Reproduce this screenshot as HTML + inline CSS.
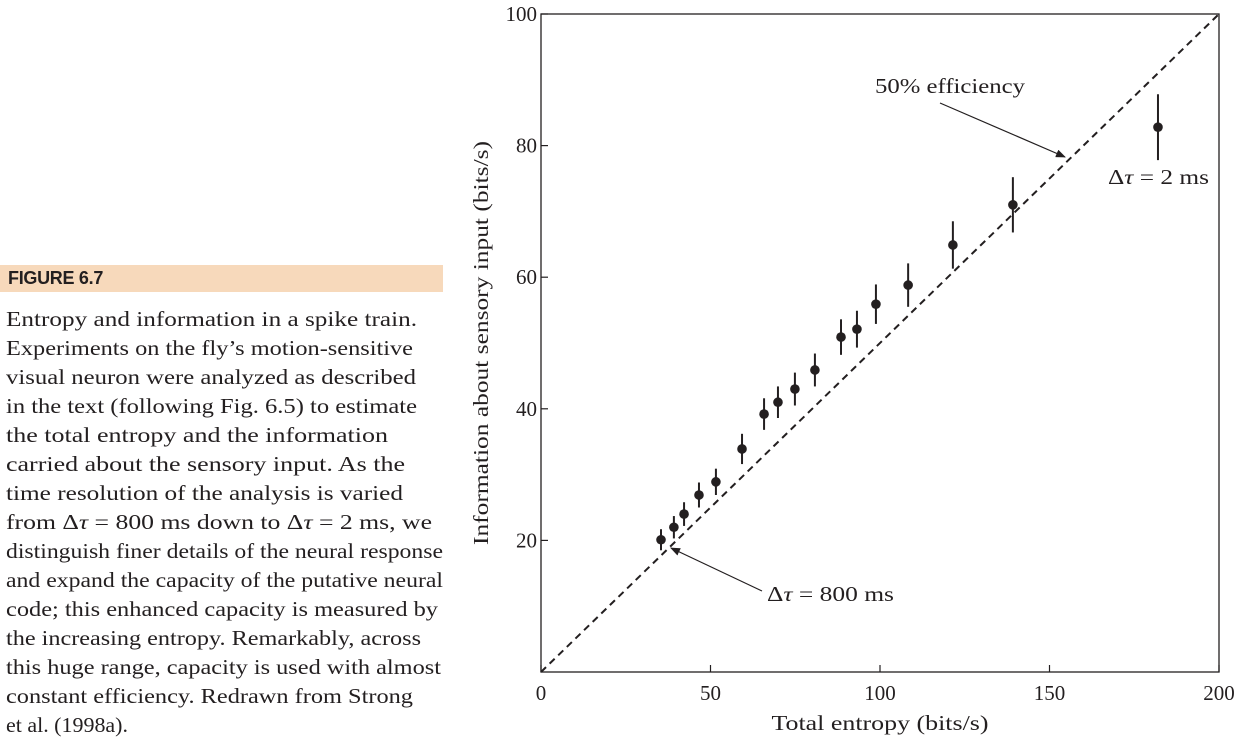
<!DOCTYPE html>
<html><head><meta charset="utf-8"><style>
body{margin:0;width:1248px;height:746px;background:#fff;overflow:hidden;position:relative;font-family:"Liberation Serif",serif;color:#231f20}
#bar{position:absolute;left:0;top:265px;width:443px;height:27px;background:#f7d9bb}
#bar span{position:absolute;left:8px;top:3px;font-family:"Liberation Sans",sans-serif;font-weight:bold;font-size:18px;color:#231f20;letter-spacing:-0.3px}
svg{position:absolute;left:0;top:0}
</style></head><body>
<div id="bar"><span>FIGURE 6.7</span></div>
<svg id="chart" width="1248" height="746"></svg>
<script>
const xVals=[35.4,39.2,42.2,46.6,51.6,59.3,65.8,69.9,74.9,80.8,88.5,93.2,98.8,108.3,121.5,139.2,182];
const yVals=[20.1,22,24,26.9,28.9,33.9,39.2,41,43,45.9,50.9,52.1,55.9,58.8,64.9,71,82.8];
const errVals=[1.6,1.7,1.8,1.9,2,2.3,2.4,2.4,2.5,2.5,2.7,2.8,3,3.3,3.6,4.2,5];
const xTicks=[0,50,100,150,200];
const yTicks=[20,40,60,80,100];
const X=v=>541+v*3.39, Y=v=>672-v*6.58;
const svg=document.getElementById('chart'),NS='http://www.w3.org/2000/svg';
function mk(t,a,p){const e=document.createElementNS(NS,t);for(const k in a)e.setAttribute(k,a[k]);(p||svg).appendChild(e);return e;}
// caption
const capLines=['Entropy and information in a spike train.','Experiments on the fly’s motion-sensitive','visual neuron were analyzed as described','in the text (following Fig. 6.5) to estimate','the total entropy and the information','carried about the sensory input. As the','time resolution of the analysis is varied','from Δ<tspan font-style="italic">τ</tspan> = 800 ms down to Δ<tspan font-style="italic">τ</tspan> = 2 ms, we','distinguish finer details of the neural response','and expand the capacity of the putative neural','code; this enhanced capacity is measured by','the increasing entropy. Remarkably, across','this huge range, capacity is used with almost','constant efficiency. Redrawn from Strong','et al. (1998a).'];
const capW=[411,407,410,411,382,399,397,426,437,437,432,415,435,407,122];
const cap=mk('g',{});


capLines.forEach((s,i)=>{const t=mk('text',{x:6,y:326+i*29,'font-size':21,fill:'#231f20',textLength:capW[i],lengthAdjust:'spacingAndGlyphs'},cap);t.innerHTML=s;});
const frame=mk('rect',{x:X(0),y:Y(100),width:X(200)-X(0),height:Y(0)-Y(100),fill:'none',stroke:'#231f20','stroke-width':1.3});


xTicks.forEach(t=>{
 const l=mk('line',{x1:X(t),x2:X(t),y1:Y(0),y2:Y(0)-7,stroke:'#231f20','stroke-width':1.2});
 
 
 const tx=mk('text',{x:X(t),y:700,'text-anchor':'middle','font-size':21,fill:'#231f20'});tx.textContent=t;
 
 
});
yTicks.forEach(t=>{
 const l=mk('line',{x1:X(0),x2:X(0)+7,y1:Y(t),y2:Y(t),stroke:'#231f20','stroke-width':1.2});
 
 
 const tx=mk('text',{x:X(0)-4,y:Y(t)+7,'text-anchor':'end','font-size':21,fill:'#231f20'});tx.textContent=t;
 
 
});
const dl=mk('line',{x1:X(0),y1:Y(0),x2:X(200),y2:Y(100),stroke:'#231f20','stroke-width':2,'stroke-dasharray':'7,5'});


xVals.forEach((v,i)=>{
 const e=mk('line',{x1:X(v),x2:X(v),y1:Y(yVals[i]-errVals[i]),y2:Y(yVals[i]+errVals[i]),stroke:'#231f20','stroke-width':2});
 
 
 const c=mk('circle',{cx:X(v),cy:Y(yVals[i]),r:4.8,fill:'#231f20'});
 
 
});
function lbl(x,y,s,n,w,anchor){const t=mk('text',{x:x,y:y,'font-size':21,fill:'#231f20','text-anchor':anchor||'start',textLength:w,lengthAdjust:'spacingAndGlyphs'});t.innerHTML=s;
 
 return t;}
lbl(880,730,'Total entropy (bits/s)','x-axis-title',217,'middle');
const yt=lbl(0,0,'Information about sensory input (bits/s)','y-axis-title',404,'middle');yt.setAttribute('transform','translate(488,343) rotate(-90)');
lbl(875,93,'50% efficiency','efficiency-annotation',150);
lbl(1108,184,'Δ<tspan font-style="italic">τ</tspan> = 2 ms','dt-2ms-label',101);
lbl(767,601,'Δ<tspan font-style="italic">τ</tspan> = 800 ms','dt-800ms-label',127);
mk('defs',{}).innerHTML='<marker id="ah" markerWidth="10" markerHeight="8" refX="9" refY="4" orient="auto" markerUnits="userSpaceOnUse"><path d="M0,0 L10,4 L0,8 z" fill="#231f20"/></marker>';
const a1=mk('line',{x1:940,y1:103,x2:1065,y2:157,stroke:'#231f20','stroke-width':1.2,'marker-end':'url(#ah)'});


const a2=mk('line',{x1:762,y1:591,x2:671,y2:548,stroke:'#231f20','stroke-width':1.2,'marker-end':'url(#ah)'});


</script>
</body></html>
